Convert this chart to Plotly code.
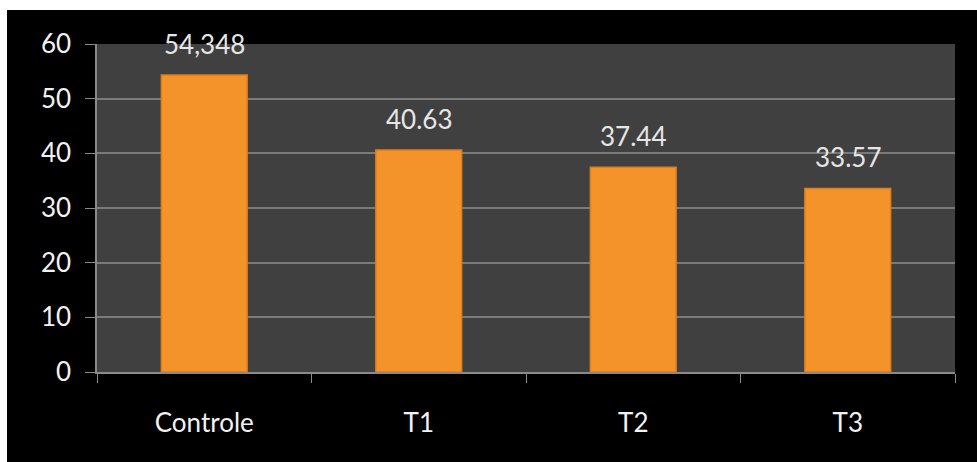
import plotly.graph_objects as go

categories = ["Controle", "T1", "T2", "T3"]
values = [54.348, 40.63, 37.44, 33.57]
value_labels = ["54,348", "40.63", "37.44", "33.57"]
y_ticks = [0, 10, 20, 30, 40, 50, 60]

FONT = "Lato"
AXIS_GRAY = "#8a8a8a"

fig = go.Figure()
fig.add_trace(go.Bar(
    x=categories,
    y=values,
    width=0.4,
    marker=dict(color="#F5932B", line=dict(color="#DD7D1C", width=1.5)),
    hoverinfo="skip",
))

for cat, val, lab in zip(categories, values, value_labels):
    fig.add_annotation(
        x=cat, y=val, text=lab, showarrow=False,
        yshift=31, yanchor="middle",
        font=dict(family=FONT, size=26, color="#E6E6E6"),
    )

W, H = 977, 462
L, R, T, B = 97, 22, 44, 90
pw, ph = W - L - R, H - T - B

def px_x(p):
    return (p - L) / pw

def px_y(p):
    return (H - B - p) / ph

# white strips at top and left of the image
fig.add_shape(type="rect", xref="paper", yref="paper",
              x0=px_x(0), x1=px_x(W), y0=px_y(10), y1=px_y(0),
              fillcolor="white", line=dict(width=0), layer="above")
fig.add_shape(type="rect", xref="paper", yref="paper",
              x0=px_x(0), x1=px_x(7), y0=px_y(H), y1=px_y(0),
              fillcolor="white", line=dict(width=0), layer="above")

fig.update_layout(
    width=W, height=H,
    margin=dict(l=L, r=R, t=T, b=B),
    paper_bgcolor="black",
    plot_bgcolor="#404040",
    showlegend=False,
    font=dict(family=FONT, size=26, color="#F2F2F2"),
)
fig.update_xaxes(
    showline=True, linecolor=AXIS_GRAY, linewidth=1.5,
    ticks="outside", tickson="boundaries", ticklen=9, tickcolor=AXIS_GRAY,
    tickfont=dict(family=FONT, size=26, color="#F2F2F2"),
    ticklabelstandoff=27,
    showgrid=False,
)
fig.update_yaxes(
    range=[0, 60], tickvals=y_ticks,
    showline=True, linecolor=AXIS_GRAY, linewidth=1.5,
    ticks="outside", ticklen=10, tickcolor=AXIS_GRAY,
    gridcolor="#7a7a7a", gridwidth=1.5, zeroline=False,
    tickfont=dict(family=FONT, size=26, color="#F2F2F2"),
    ticklabelstandoff=9,
)

fig.write_html("out.html", config={"displayModeBar": False},
               post_script="document.body.style.margin='0';")
